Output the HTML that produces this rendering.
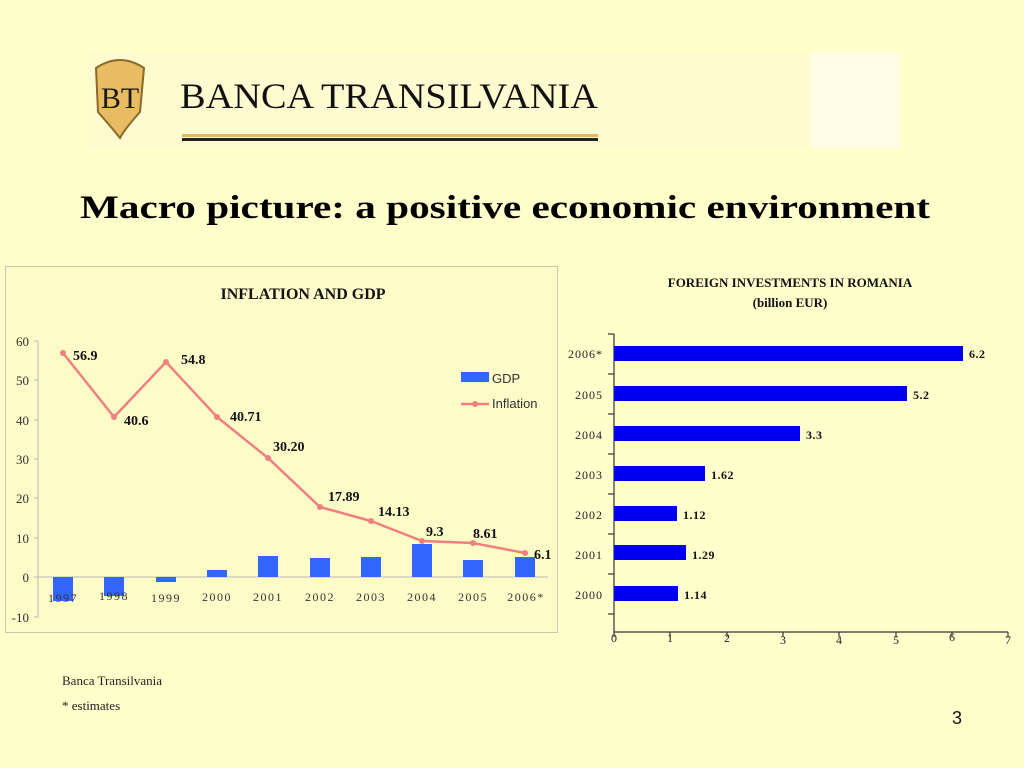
<!DOCTYPE html>
<html><head><meta charset="utf-8"><style>
html,body{margin:0;padding:0;background:#ffffcc;width:1024px;height:768px;overflow:hidden}
svg{display:block}
</style></head><body>
<svg width="1024" height="768" viewBox="0 0 1024 768" xmlns="http://www.w3.org/2000/svg">
<rect width="1024" height="768" fill="#ffffcc"/>
<!-- banner -->
<rect x="88" y="52" width="812" height="96" fill="#fefbd0"/>
<rect x="810" y="52" width="90" height="96" fill="#fffde6"/>
<path d="M96 68 Q120 52 144 68 L140 112 Q124 130 120 138 Q112 128 98 112 Z" fill="#e8bc62" stroke="#8a6a2a" stroke-width="2"/>
<text x="120" y="108" font-family="Liberation Serif,serif" font-size="30" text-anchor="middle" fill="#1a1a1a">BT</text>
<text x="180" y="108" font-family="Liberation Serif,serif" font-size="36" fill="#111" textLength="418" lengthAdjust="spacingAndGlyphs">BANCA TRANSILVANIA</text>
<rect x="182" y="134" width="416" height="3" fill="#e0b860"/>
<rect x="182" y="138" width="416" height="3" fill="#222"/>
<!-- title -->
<text x="80" y="218" font-family="Liberation Serif,serif" font-size="33" font-weight="bold" fill="#000" textLength="850" lengthAdjust="spacingAndGlyphs">Macro picture: a positive economic environment</text>
<!-- left panel -->
<rect x="5.5" y="266.5" width="552" height="366" fill="#fdfbc8" stroke="#c8c8b0" stroke-width="1"/>
<text x="303" y="299" font-family="Liberation Serif,serif" font-size="16" font-weight="bold" text-anchor="middle" fill="#111">INFLATION AND GDP</text>
<g font-family="Liberation Serif,serif" font-size="13" fill="#333" text-anchor="end">
<text x="29" y="346">60</text><text x="29" y="385">50</text><text x="29" y="425">40</text><text x="29" y="464">30</text><text x="29" y="503">20</text><text x="29" y="543">10</text><text x="29" y="582">0</text><text x="29" y="622">-10</text>
</g>
<g stroke="#bbb" stroke-width="1">
<line x1="38" y1="341" x2="38" y2="617"/>
<line x1="34" y1="341" x2="38" y2="341"/><line x1="34" y1="380" x2="38" y2="380"/><line x1="34" y1="420" x2="38" y2="420"/><line x1="34" y1="459" x2="38" y2="459"/><line x1="34" y1="498" x2="38" y2="498"/><line x1="34" y1="538" x2="38" y2="538"/><line x1="34" y1="577" x2="38" y2="577"/><line x1="34" y1="617" x2="38" y2="617"/>
<line x1="38" y1="577" x2="548" y2="577"/>
</g>
<g fill="#3366ff">
<rect x="53" y="577" width="20" height="24"/>
<rect x="104" y="577" width="20" height="19"/>
<rect x="156" y="577" width="20" height="5"/>
<rect x="207" y="570" width="20" height="7"/>
<rect x="258" y="556" width="20" height="21"/>
<rect x="310" y="558" width="20" height="19"/>
<rect x="361" y="557" width="20" height="20"/>
<rect x="412" y="544" width="20" height="33"/>
<rect x="463" y="560" width="20" height="17"/>
<rect x="515" y="557" width="20" height="20"/>
</g>
<g font-family="Liberation Serif,serif" font-size="12" fill="#333" text-anchor="middle" letter-spacing="1.5">
<text x="63" y="602">1997</text><text x="114" y="600">1998</text><text x="166" y="602">1999</text><text x="217" y="601">2000</text><text x="268" y="601">2001</text><text x="320" y="601">2002</text><text x="371" y="601">2003</text><text x="422" y="601">2004</text><text x="473" y="601">2005</text><text x="526" y="601">2006*</text>
</g>
<polyline points="63,353 114,417 166,362 217,417 268,458 320,507 371,521 422,541 473,543 525,553" fill="none" stroke="#f08080" stroke-width="2.5"/>
<g fill="#f08080">
<circle cx="63" cy="353" r="3"/><circle cx="114" cy="417" r="3"/><circle cx="166" cy="362" r="3"/><circle cx="217" cy="417" r="3"/><circle cx="268" cy="458" r="3"/><circle cx="320" cy="507" r="3"/><circle cx="371" cy="521" r="3"/><circle cx="422" cy="541" r="3"/><circle cx="473" cy="543" r="3"/><circle cx="525" cy="553" r="3"/>
</g>
<g font-family="Liberation Serif,serif" font-size="14" font-weight="bold" fill="#111">
<text x="73" y="360">56.9</text><text x="124" y="425">40.6</text><text x="181" y="364">54.8</text><text x="230" y="421">40.71</text><text x="273" y="451">30.20</text><text x="328" y="501">17.89</text><text x="378" y="516">14.13</text><text x="426" y="536">9.3</text><text x="473" y="538">8.61</text><text x="534" y="559">6.1</text>
</g>
<rect x="461" y="372" width="28" height="10" fill="#3366ff"/>
<text x="492" y="383" font-family="Liberation Sans,sans-serif" font-size="13" fill="#333">GDP</text>
<line x1="461" y1="404" x2="489" y2="404" stroke="#f08080" stroke-width="2.5"/>
<circle cx="475" cy="404" r="3" fill="#f08080"/>
<text x="492" y="408" font-family="Liberation Sans,sans-serif" font-size="13" fill="#333">Inflation</text>
<!-- right chart -->
<g font-family="Liberation Serif,serif" font-size="13" font-weight="bold" fill="#111" text-anchor="middle">
<text x="790" y="287">FOREIGN INVESTMENTS IN ROMANIA</text>
<text x="790" y="307">(billion EUR)</text>
</g>
<g stroke="#333" stroke-width="1.2">
<line x1="614" y1="334" x2="614" y2="632"/>
<line x1="614" y1="632" x2="1008" y2="632"/>
<line x1="608" y1="334" x2="614" y2="334"/><line x1="608" y1="374" x2="614" y2="374"/><line x1="608" y1="414" x2="614" y2="414"/><line x1="608" y1="454" x2="614" y2="454"/><line x1="608" y1="494" x2="614" y2="494"/><line x1="608" y1="534" x2="614" y2="534"/><line x1="608" y1="574" x2="614" y2="574"/><line x1="608" y1="614" x2="614" y2="614"/>
<line x1="614" y1="632" x2="614" y2="637"/><line x1="670" y1="632" x2="670" y2="637"/><line x1="727" y1="632" x2="727" y2="637"/><line x1="783" y1="632" x2="783" y2="637"/><line x1="839" y1="632" x2="839" y2="637"/><line x1="896" y1="632" x2="896" y2="637"/><line x1="952" y1="632" x2="952" y2="637"/><line x1="1008" y1="632" x2="1008" y2="637"/>
</g>
<g fill="#0000ee">
<rect x="614" y="346" width="349" height="15"/>
<rect x="614" y="386" width="293" height="15"/>
<rect x="614" y="426" width="186" height="15"/>
<rect x="614" y="466" width="91" height="15"/>
<rect x="614" y="506" width="63" height="15"/>
<rect x="614" y="545" width="72" height="15"/>
<rect x="614" y="586" width="64" height="15"/>
</g>
<g font-family="Liberation Serif,serif" font-size="12" fill="#222" text-anchor="end" letter-spacing="1">
<text x="603" y="358">2006*</text><text x="603" y="399">2005</text><text x="603" y="439">2004</text><text x="603" y="479">2003</text><text x="603" y="519">2002</text><text x="603" y="559">2001</text><text x="603" y="599">2000</text>
</g>
<g font-family="Liberation Serif,serif" font-size="12" font-weight="bold" fill="#111" letter-spacing="0.5">
<text x="969" y="358">6.2</text><text x="913" y="399">5.2</text><text x="806" y="439">3.3</text><text x="711" y="479">1.62</text><text x="683" y="519">1.12</text><text x="692" y="559">1.29</text><text x="684" y="599">1.14</text>
</g>
<g font-family="Liberation Serif,serif" font-size="12" fill="#222" text-anchor="middle">
<text x="614" y="642">0</text><text x="670" y="642">1</text><text x="727" y="642">2</text><text x="783" y="644">3</text><text x="839" y="644">4</text><text x="896" y="644">5</text><text x="952" y="641">6</text><text x="1008" y="644">7</text>
</g>
<!-- footer -->
<text x="62" y="685" font-family="Liberation Serif,serif" font-size="13" fill="#222">Banca Transilvania</text>
<text x="62" y="710" font-family="Liberation Serif,serif" font-size="13" fill="#222">* estimates</text>
<text x="957" y="724" font-family="Liberation Sans,sans-serif" font-size="18" fill="#111" text-anchor="middle">3</text>
</svg>
</body></html>
